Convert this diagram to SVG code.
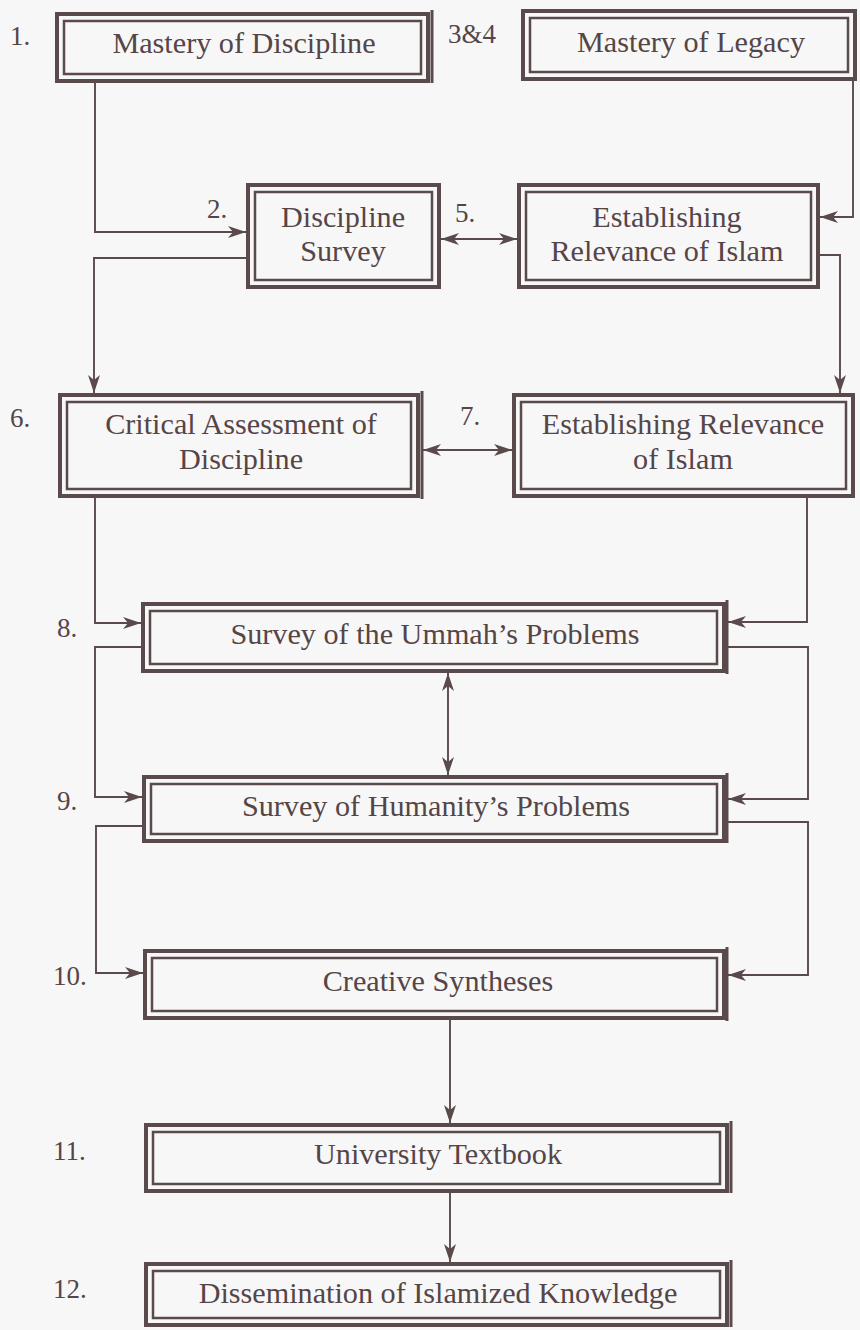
<svg xmlns="http://www.w3.org/2000/svg" width="860" height="1330" viewBox="0 0 860 1330">
<style>
.bg{fill:#f7f7f7}
.o{fill:none;stroke:#5a4a4c;stroke-width:4}
.i{fill:none;stroke:#5a4a4c;stroke-width:2.5}
.x{stroke:#5a4a4c;stroke-width:3}
.t{font-family:'Liberation Serif','Times New Roman',serif;font-size:30.2px;fill:#554547;text-anchor:middle}
.n{font-family:'Liberation Serif','Times New Roman',serif;font-size:27px;fill:#554547}
.c{fill:none;stroke:#5a4a4c;stroke-width:1.9}
</style>
<defs>
<marker id="ah" viewBox="0 0 18 13" refX="18" refY="6.5" markerWidth="18" markerHeight="13" markerUnits="userSpaceOnUse" orient="auto-start-reverse">
<path d="M0,0.5 L18,6.5 L0,12.5 L5,6.5 z" fill="#5a4a4c"/>
</marker>
</defs>
<rect class="bg" x="0" y="0" width="860" height="1330"/>

<g id="labels">
<text class="n" x="10" y="45">1.</text>
<text class="n" x="448" y="43">3&amp;4</text>
<text class="n" x="207" y="218">2.</text>
<text class="n" x="455" y="222">5.</text>
<text class="n" x="10" y="427">6.</text>
<text class="n" x="460" y="425">7.</text>
<text class="n" x="57" y="637">8.</text>
<text class="n" x="57" y="810">9.</text>
<text class="n" x="53" y="985">10.</text>
<text class="n" x="53" y="1160">11.</text>
<text class="n" x="53" y="1298">12.</text>
</g>

<g id="connectors">
<path class="c" d="M95,82 V232 H246" marker-end="url(#ah)"/>
<path class="c" d="M246,258 H94 V393" marker-end="url(#ah)"/>
<path class="c" d="M441,239 H517" marker-start="url(#ah)" marker-end="url(#ah)"/>
<path class="c" d="M853,80 V217 H820" marker-end="url(#ah)"/>
<path class="c" d="M820,255 H840 V393" marker-end="url(#ah)"/>
<path class="c" d="M423,450 H512" marker-start="url(#ah)" marker-end="url(#ah)"/>
<path class="c" d="M95,498 V623 H141" marker-end="url(#ah)"/>
<path class="c" d="M807,498 V622 H728" marker-end="url(#ah)"/>
<path class="c" d="M141,647 H95 V797 H142" marker-end="url(#ah)"/>
<path class="c" d="M728,647 H808 V799 H728" marker-end="url(#ah)"/>
<path class="c" d="M448,673 V775" marker-start="url(#ah)" marker-end="url(#ah)"/>
<path class="c" d="M142,826 H96 V973 H143" marker-end="url(#ah)"/>
<path class="c" d="M728,822 H808 V975 H728" marker-end="url(#ah)"/>
<path class="c" d="M450,1020 V1123" marker-end="url(#ah)"/>
<path class="c" d="M450,1193 V1262" marker-end="url(#ah)"/>
</g>

<g id="n1">
<rect class="o" x="57" y="14" width="371" height="67"/>
<rect class="i" x="64" y="21" width="357" height="53"/>
<line class="x" x1="432" y1="10" x2="432" y2="83"/>
<text class="t" x="244" y="53">Mastery of Discipline</text>
</g>

<g id="n34">
<rect class="o" x="523" y="11" width="332" height="68"/>
<rect class="i" x="530" y="18" width="318" height="54"/>
<text class="t" x="691" y="52">Mastery of Legacy</text>
</g>

<g id="n2">
<rect class="o" x="248" y="185" width="191" height="102"/>
<rect class="i" x="255" y="192" width="177" height="88"/>
<text class="t" x="343" y="227">Discipline</text>
<text class="t" x="343" y="261">Survey</text>
</g>

<g id="n5">
<rect class="o" x="519" y="185" width="299" height="102"/>
<rect class="i" x="526" y="192" width="285" height="88"/>
<text class="t" x="667" y="227">Establishing</text>
<text class="t" x="667" y="261">Relevance of Islam</text>
</g>

<g id="n6">
<rect class="o" x="60" y="395" width="358" height="101"/>
<rect class="i" x="67" y="402" width="344" height="87"/>
<line class="x" x1="422" y1="391" x2="422" y2="499"/>
<text class="t" x="241" y="434">Critical Assessment of</text>
<text class="t" x="241" y="469">Discipline</text>
</g>

<g id="n7">
<rect class="o" x="514" y="395" width="339" height="101"/>
<rect class="i" x="521" y="402" width="325" height="87"/>
<text class="t" x="683" y="434">Establishing Relevance</text>
<text class="t" x="683" y="469">of Islam</text>
</g>

<g id="n8">
<rect class="o" x="143" y="604" width="581" height="67"/>
<rect class="i" x="150" y="611" width="567" height="53"/>
<line class="x" x1="727" y1="600" x2="727" y2="674"/>
<text class="t" x="435" y="644">Survey of the Ummah’s Problems</text>
</g>

<g id="n9">
<rect class="o" x="144" y="777" width="580" height="64"/>
<rect class="i" x="151" y="784" width="566" height="50"/>
<line class="x" x1="727" y1="773" x2="727" y2="843"/>
<text class="t" x="436" y="816">Survey of Humanity’s Problems</text>
</g>

<g id="n10">
<rect class="o" x="145" y="951" width="579" height="67"/>
<rect class="i" x="152" y="958" width="565" height="53"/>
<line class="x" x1="727" y1="947" x2="727" y2="1021"/>
<text class="t" x="438" y="991">Creative Syntheses</text>
</g>

<g id="n11">
<rect class="o" x="146" y="1125" width="581" height="66"/>
<rect class="i" x="153" y="1132" width="567" height="52"/>
<line class="x" x1="731" y1="1121" x2="731" y2="1193"/>
<text class="t" x="438" y="1164">University Textbook</text>
</g>

<g id="n12">
<rect class="o" x="146" y="1264" width="581" height="61"/>
<rect class="i" x="153" y="1271" width="567" height="47"/>
<line class="x" x1="731" y1="1260" x2="731" y2="1327"/>
<text class="t" x="438" y="1303">Dissemination of Islamized Knowledge</text>
</g>
</svg>
